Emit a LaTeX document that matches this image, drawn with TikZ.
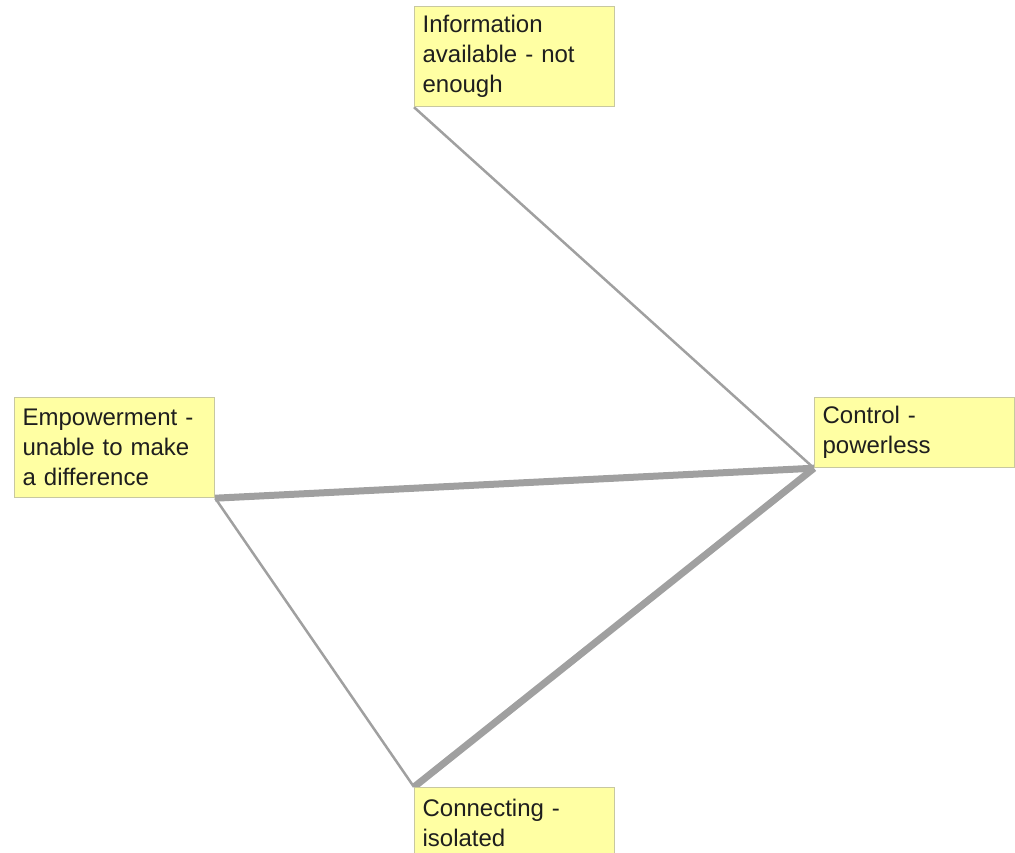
\documentclass[tikz,border=0pt]{standalone}
\usepackage{fontspec}
\setmainfont{Liberation Sans}
\usetikzlibrary{backgrounds}
\definecolor{notefill}{RGB}{255,255,163}
\definecolor{noteline}{RGB}{200,200,160}
\definecolor{linkgrey}{RGB}{160,160,160}
\definecolor{notetext}{RGB}{30,30,30}
\begin{document}
\begin{tikzpicture}[x=1pt,y=-1pt,
  note/.style={draw=noteline, line width=1.2pt, fill=notefill, anchor=north west,
    minimum width=200pt, text width=184pt, inner xsep=8pt, inner ysep=0pt,
    align=left, text=notetext, font=\fontsize{24}{30}\selectfont},
  thin link/.style={draw=linkgrey, line width=2.5pt},
  thick link/.style={draw=linkgrey, line width=7pt}]
\useasboundingbox (0,0) rectangle (1015,853);
\node[note, minimum height=100pt] (info) at (414,6) {Information\\available - not\\enough};
\node[note, minimum height=100pt] (emp) at (14,397) {Empowerment -\\unable to make\\a difference};
\node[note, minimum height=70pt] (ctrl) at (814,397) {Control -\\powerless};
\node[note, minimum height=70pt] (conn) at (414,787) {Connecting -\\isolated};
\begin{pgfonlayer}{background}
\draw[thin link] (info.south west) -- (ctrl.south west);
\draw[thick link] (emp.south east) -- (ctrl.south west);
\draw[thin link] (emp.south east) -- (conn.north west);
\draw[thick link] (ctrl.south west) -- (conn.north west);
\end{pgfonlayer}
\end{tikzpicture}
\end{document}
